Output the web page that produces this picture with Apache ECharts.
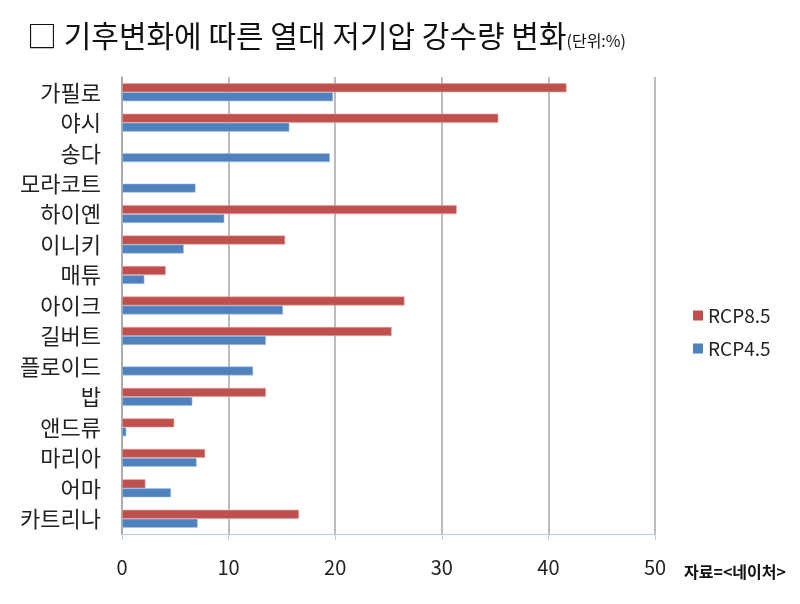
<!DOCTYPE html>
<html>
<head>
<meta charset="utf-8">
<script src="https://cdn.jsdelivr.net/npm/echarts@6/dist/echarts.min.js"></script>
<style>
  html, body { margin: 0; padding: 0; background: #fff; }
  #chart { width: 800px; height: 604px; }
</style>
</head>
<body>
<div id="chart"></div>
<script>
const storms = ['가필로', '야시', '송다', '모라코트', '하이옌', '이니키', '매튜', '아이크', '길버트', '플로이드', '밥', '앤드류', '마리아', '어마', '카트리나'];
const rcp85 = [41.7, 35.3, null, null, 31.4, 15.3, 4.1, 26.5, 25.3, null, 13.5, 4.9, 7.8, 2.2, 16.6];
const rcp45 = [19.8, 15.7, 19.5, 6.9, 9.6, 5.8, 2.1, 15.1, 13.5, 12.3, 6.6, 0.4, 7.0, 4.6, 7.1];
const xTicks = [0, 10, 20, 30, 40, 50];

const font = '"Noto Sans CJK KR", "Noto Sans", sans-serif';
const chart = echarts.init(document.getElementById('chart'));

const option = {
  animation: false,
  textStyle: { fontFamily: font },
  title: [
    {
      text: '{main|□ 기후변화에 따른 열대 저기압 강수량 변화}{unit|(단위:%)}',
      left: 22,
      top: 16,
      textStyle: {
        rich: {
          main: { fontSize: 30, fontWeight: 'normal', color: '#111', fontFamily: font },
          unit: { fontSize: 16, fontWeight: 'normal', color: '#111', fontFamily: font, padding: [10, 0, 0, 0] }
        }
      }
    },
    {
      text: '자료=<네이처>',
      left: 679,
      top: 559,
      textStyle: { fontSize: 16, fontWeight: 'bold', color: '#111', fontFamily: font }
    }
  ],
  legend: {
    orient: 'vertical',
    left: 688,
    top: 301,
    itemWidth: 10,
    itemHeight: 10,
    itemGap: 14,
    icon: 'rect',
    itemStyle: { borderWidth: 0 },
    textStyle: { fontSize: 19, color: '#222', fontFamily: font },
    data: ['RCP8.5', 'RCP4.5']
  },
  grid: {
    left: 122,
    right: 145,
    top: 77,
    bottom: 70
  },
  xAxis: {
    type: 'value',
    min: 0,
    max: 50,
    interval: 10,
    axisLine: { show: true, lineStyle: { color: '#b9cbe4', width: 1 } },
    axisTick: { show: true, length: 6, lineStyle: { color: '#b9cbe4' } },
    axisLabel: {
      fontSize: 20,
      color: '#222',
      margin: 23,
      formatter: v => xTicks.includes(v) ? String(v) : ''
    },
    splitLine: { show: true, lineStyle: { color: '#a6a6a6', width: 1.5 } }
  },
  yAxis: {
    type: 'category',
    inverse: true,
    data: storms,
    axisLine: { show: true, lineStyle: { color: '#a6a6a6', width: 1.5 } },
    axisTick: { show: false },
    axisLabel: { fontSize: 22, color: '#222', margin: 21 }
  },
  series: [
    {
      name: 'RCP8.5',
      type: 'bar',
      data: rcp85,
      barWidth: 9,
      barGap: '0%',
      itemStyle: { color: '#c0504d', borderColor: '#e3a6a4', borderWidth: 0.6 }
    },
    {
      name: 'RCP4.5',
      type: 'bar',
      data: rcp45,
      barWidth: 9,
      barGap: '0%',
      itemStyle: { color: '#4f81bd', borderColor: '#a9c4e4', borderWidth: 0.6 }
    }
  ]
};

chart.setOption(option);
</script>
</body>
</html>
